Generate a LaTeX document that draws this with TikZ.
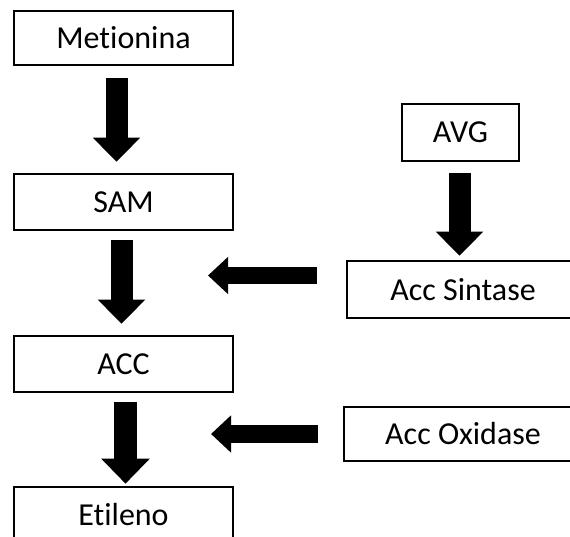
\documentclass[tikz,border=0pt]{standalone}
\usepackage{fontspec}
\setmainfont{Carlito}[Ligatures=NoCommon]
\usetikzlibrary{arrows.meta}
\tikzset{
  box/.style={draw=black, line width=2.6pt, rectangle, inner sep=0pt, fill=white,
    font=\fontsize{32}{36}\selectfont, text=black},
  downarrow/.style={draw=black, line width=22pt, -{Triangle[width=46pt,length=24pt]}},
  leftarrow/.style={draw=black, line width=17.5pt, -{Triangle[width=36pt,length=20pt]}}
}
\begin{document}
\begin{tikzpicture}[x=1pt,y=-1pt]
\useasboundingbox (0,0) rectangle (570,537);
\clip (0,0) rectangle (570,537);
\fill[white] (0,0) rectangle (570,537);
% main chain
\node[box, minimum width=219pt, minimum height=54pt] (met) at (123.5,38) {Metionina};
\node[box, minimum width=219pt, minimum height=56pt] (sam) at (123.5,202) {SAM};
\node[box, minimum width=219pt, minimum height=56pt] (acc) at (123.5,364) {ACC};
\node[box, minimum width=219pt, minimum height=56pt] (eti) at (123.5,515) {Etileno};
% side nodes
\node[box, minimum width=117pt, minimum height=57pt] (avg) at (460.5,132.5) {AVG};
\node[box, minimum width=232pt, minimum height=57pt] (sin) at (463,289.5) {Acc Sintase};
\node[box, minimum width=238pt, minimum height=54pt] (oxi) at (463,434) {Acc Oxidase};
% free ends of the side arrows
\coordinate (t1) at (208,275.5);
\coordinate (t2) at (211,434);
% vertical arrows
\draw[downarrow] ([xshift=-7pt,yshift=-12pt]met.south) -- ([xshift=-7pt,yshift=11pt]sam.north);
\draw[downarrow] ([xshift=-2pt,yshift=-9pt]sam.south) -- ([xshift=-2pt,yshift=11pt]acc.north);
\draw[downarrow, line width=23pt, -{Triangle[width=47pt,length=25pt]}] ([xshift=2pt,yshift=-9pt]acc.south) -- ([xshift=2pt,yshift=2pt]eti.north);
\draw[downarrow] ([xshift=-1pt,yshift=-11pt]avg.south) -- ([xshift=-1pt,yshift=4pt]sin.north -| avg.south);
% horizontal arrows
\draw[leftarrow] ([xshift=-29pt,yshift=14pt]sin.west) -- (t1);
\draw[leftarrow] ([xshift=-25pt]oxi.west) -- (t2);
\end{tikzpicture}
\end{document}
